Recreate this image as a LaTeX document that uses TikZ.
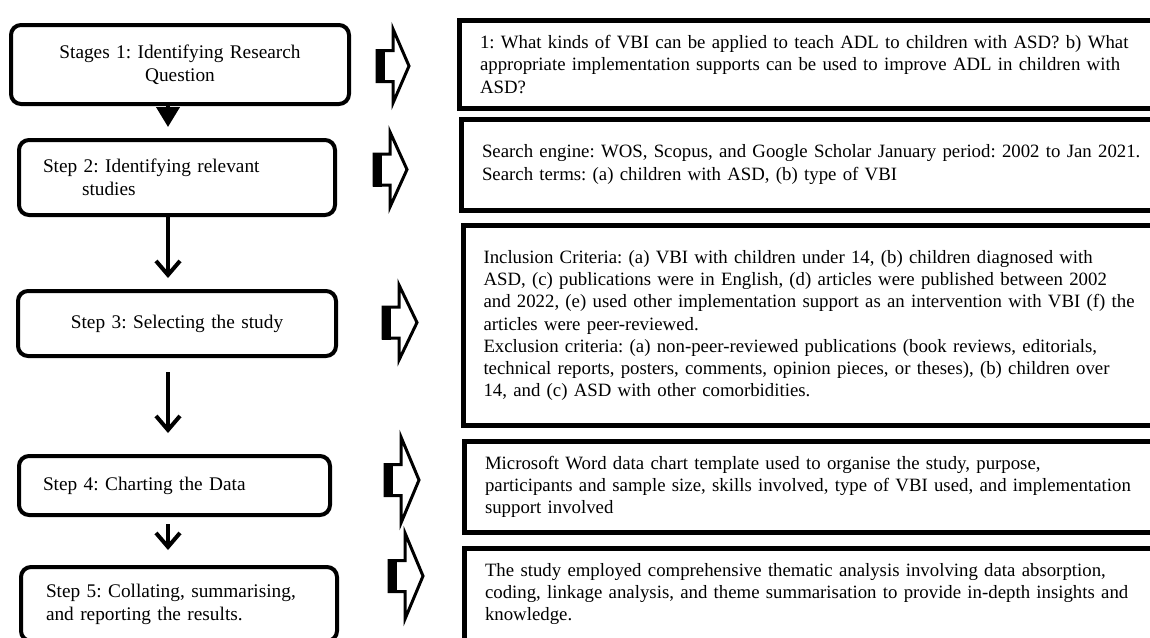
\documentclass[tikz,border=0pt]{standalone}
\usepackage{fontspec}
\setmainfont{Liberation Serif}
\frenchspacing
\usetikzlibrary{arrows.meta}
\tikzset{
  lbox/.style={draw, line width=4pt, rounded corners=10pt, inner ysep=0pt,
    font=\fontsize{19.3}{23}\selectfont},
  rbox/.style={draw, line width=5pt, inner xsep=20.5pt, inner ysep=0pt, align=left,
    font=\fontsize{18.8}{22.3}\selectfont},
  openarr/.style={line width=4pt, -{Straight Barb[length=14pt,width=24pt]}},
  headarr/.style={line width=4pt, -{Triangle[length=20pt,width=23pt]}},
  blockline/.style={line width=3pt, line join=miter, fill=white},
}
\newcommand{\blockarr}[4]{%
  \draw[blockline] ({#1},{#2-15.5}) -- ({#1+16},{#2-15.5}) -- ({#1+16},{#2-#3})
    -- ({#1+#4},{#2}) -- ({#1+16},{#2+#3}) -- ({#1+16},{#2+15.5})
    -- ({#1},{#2+15.5}) -- cycle;
  \fill[black] ({#1-1.5},{#2-17}) rectangle ({#1+8},{#2+17});
}
\begin{document}
\begin{tikzpicture}[x=1pt, y=-1pt]
\useasboundingbox (0,0) rectangle (1150,637);
\clip (0,0) rectangle (1150,637);

% left column
\node[lbox, minimum width=338pt, minimum height=79pt, inner xsep=24pt, text width=290pt, align=center]
  (L1) at (180,64.5) {Stages 1: Identifying Research\\Question};
\node[lbox, minimum width=316pt, minimum height=75pt, inner xsep=24pt, text width=268pt, align=left]
  (L2) at (177,177.5) {Step 2: Identifying relevant\\\hspace*{39pt}studies};
\node[lbox, minimum width=318pt, minimum height=65pt, inner xsep=24pt, text width=270pt, align=center]
  (L3) at (177,323.5) {Step 3: Selecting the study};
\node[lbox, minimum width=311pt, minimum height=59pt, inner xsep=24pt, text width=263pt, align=left]
  (L4) at (174.5,485.5) {Step 4: Charting the Data};
\node[lbox, minimum width=316pt, minimum height=74pt, inner xsep=25pt, text width=266pt, align=left]
  (L5) at (179,604) {Step 5: Collating, summarising,\\and reporting the results.};

% right column (right edges lie beyond the picture's edge, as in the reference)
\node[rbox, minimum width=760.5pt, minimum height=87.5pt, text width=719.5pt]
  (R1) at (839.75,64.25) {1: What kinds of VBI can be applied to teach ADL to children with ASD? b) What\\appropriate implementation supports can be used to improve ADL in children with\\ASD?};
\node[rbox, minimum width=758.5pt, minimum height=91pt, text width=717.5pt]
  (R2) at (840.75,164.5) {Search engine: WOS, Scopus, and Google Scholar January period: 2002 to Jan 2021.\\Search terms: (a) children with ASD, (b) type of VBI};
\node[rbox, minimum width=757pt, minimum height=200pt, text width=716pt]
  (R3) at (841.5,325.5) {Inclusion Criteria: (a) VBI with children under 14, (b) children diagnosed with\\ASD, (c) publications were in English, (d) articles were published between 2002\\and 2022, (e) used other implementation support as an intervention with VBI (f) the\\articles were peer-reviewed.\\Exclusion criteria: (a) non-peer-reviewed publications (book reviews, editorials,\\technical reports, posters, comments, opinion pieces, or theses), (b) children over\\14, and (c) ASD with other comorbidities.};
\node[rbox, minimum width=755.5pt, minimum height=91.5pt, text width=714.5pt]
  (R4) at (842.25,486.75) {Microsoft Word data chart template used to organise the study, purpose,\\participants and sample size, skills involved, type of VBI used, and implementation\\support involved};
\node[rbox, minimum width=755.5pt, minimum height=92pt, text width=714.5pt]
  (R5) at (842.25,594) {The study employed comprehensive thematic analysis involving data absorption,\\coding, linkage analysis, and theme summarisation to provide in-depth insights and\\knowledge.};

% vertical connectors
\coordinate (ax) at (168,0);
\draw[headarr, shorten >=11pt] (L1.south -| ax) -- (L2.north -| ax);
\draw[openarr, shorten >=11pt] (L2.south -| ax) -- (L3.north -| ax);
\draw[openarr, shorten <=14pt, shorten >=21pt] (L3.south -| ax) -- (L4.north -| ax);
\draw[openarr, shorten <=7pt, shorten >=15pt] (L4.south -| ax) -- (L5.north -| ax);

% block arrows
\blockarr{377}{66}{37}{32}
\blockarr{374}{169.5}{37.5}{33}
\blockarr{383}{322.5}{37.5}{34}
\blockarr{385}{480}{43}{34}
\blockarr{389}{576}{43}{34}
\end{tikzpicture}
\end{document}
